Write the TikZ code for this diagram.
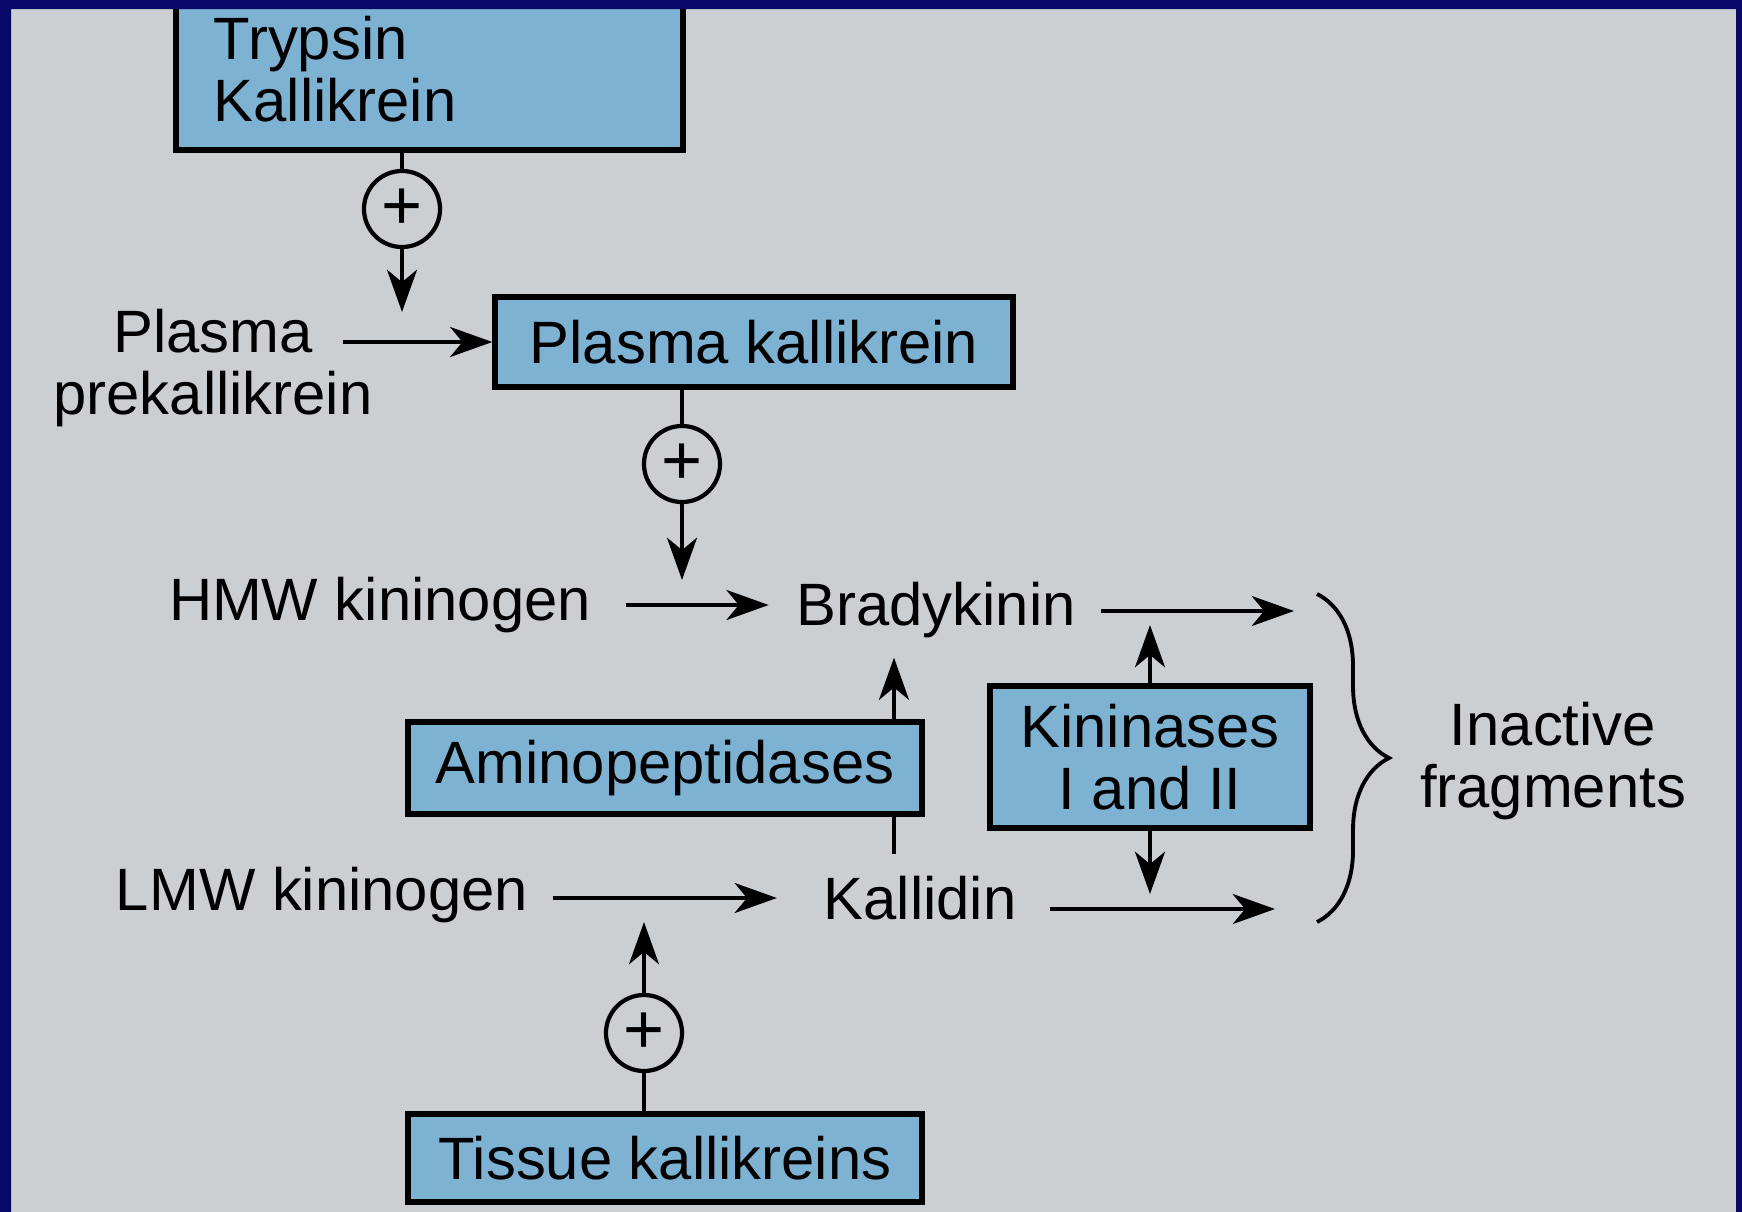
\documentclass[tikz,border=0pt]{standalone}
\usepackage{fontspec}
\setmainfont{Liberation Sans}
\usetikzlibrary{arrows.meta,decorations.pathreplacing}

\definecolor{framenavy}{RGB}{8,8,104}
\definecolor{pagegray}{RGB}{203,207,210}
\definecolor{boxblue}{RGB}{126,178,211}

\tikzset{
  enzbox/.style={draw, line width=1.7pt, fill=boxblue, inner sep=0pt, font=\fontsize{17}{17.5}\selectfont},
  lbl/.style={inner sep=0pt, align=center, font=\fontsize{17}{17.5}\selectfont},
  plus/.style={draw, circle, line width=1.2pt, minimum size=0.76cm, inner sep=0pt, font=\fontsize{20}{20}\selectfont},
  arr/.style={-{Stealth[length=12pt,width=8.5pt,inset=3.5pt]}, line width=1.4pt},
  stem/.style={line width=1.2pt}
}

\begin{document}
\begin{tikzpicture}[x=0.01cm, y=-0.01cm]

\useasboundingbox (0,0) rectangle (1742,1212);
\fill[pagegray] (0,0) rectangle (1742,1212);

% ===== Enzyme boxes and labels =====
\node[enzbox, minimum width=5.07cm, minimum height=1.62cm, text width=4.31cm, align=left] (tryp) at (429.5,69) {Trypsin\\Kallikrein};
\node[lbl] (plasma) at (213,368) {Plasma\\prekallikrein};
\node[enzbox, minimum width=5.17cm, minimum height=0.89cm] (pk) at (754,342) {Plasma kallikrein};

\node[lbl] (hmw) at (380,605) {HMW kininogen};
\node[lbl] (brady) at (936,610) {Bradykinin};
\node[lbl] (lmw) at (322,895) {LMW kininogen};
\node[lbl] (kal) at (920,898) {Kallidin};

\node[enzbox, minimum width=3.19cm, minimum height=1.42cm, align=center] (kin) at (1150,757) {Kininases\\I and II};
\node[lbl] (inact) at (1553,761) {Inactive\\fragments};
\node[enzbox, minimum width=5.14cm, minimum height=0.88cm] (tissue) at (665,1158) {Tissue kallikreins};

% ===== Plus circles =====
\node[plus] (c1) at (402,209) {+};
\node[plus] (c2) at (682,464) {+};
\node[plus] (c3) at (644,1033) {+};

% ===== Free ends =====
\coordinate (t1) at (402,312);
\coordinate (t2) at (682,580);
\coordinate (t3) at (1150,625);
\coordinate (t4) at (1150,894);
\coordinate (t5) at (644,922);
\coordinate (f1) at (1294,611);
\coordinate (f2) at (1275,909);

% ===== Activation steps =====
\draw[stem] (tryp.south -| c1) -- (c1);
\draw[arr] (c1) -- (t1);
\draw[arr] ([xshift=-0.3cm]plasma.east |- pk.west) -- (pk.west);

\draw[stem] (pk.south -| c2) -- (c2);
\draw[arr] (c2) -- (t2);
\draw[arr, shorten <=0.34cm, shorten >=0.27cm] (hmw.east) -- (hmw.east -| brady.west);

\draw[stem] (tissue.north -| c3) -- (c3);
\draw[arr] (c3) -- (t5);
\draw[arr, shorten <=0.24cm, shorten >=0.46cm] (lmw.east |- kal.west) -- (kal.west);

% Kallidin -> Bradykinin, runs behind the box
\draw[arr, shorten <=0.21cm, shorten >=0.19cm] ([xshift=-0.26cm]kal.north) -- ([xshift=-0.26cm]kal.north |- brady.south);
\node[enzbox, minimum width=5.14cm, minimum height=0.92cm] (amino) at (665,768) {Aminopeptidases};

% ===== Breakdown =====
\draw[arr, shorten <=0.25cm] (brady.east |- f1) -- (f1);
\draw[arr, shorten <=0.33cm] (kal.east |- f2) -- (f2);
\draw[arr] (kin.north) -- (t3);
\draw[arr] (kin.south) -- (t4);

\draw[decorate, decoration={brace, amplitude=0.72cm}, line width=1.1pt] (1317,594) -- (1317,922);

% ===== Frame =====
\fill[framenavy, even odd rule] (0,0) rectangle (1742,1212) (11,9) rectangle (1736,1212);

\end{tikzpicture}
\end{document}
